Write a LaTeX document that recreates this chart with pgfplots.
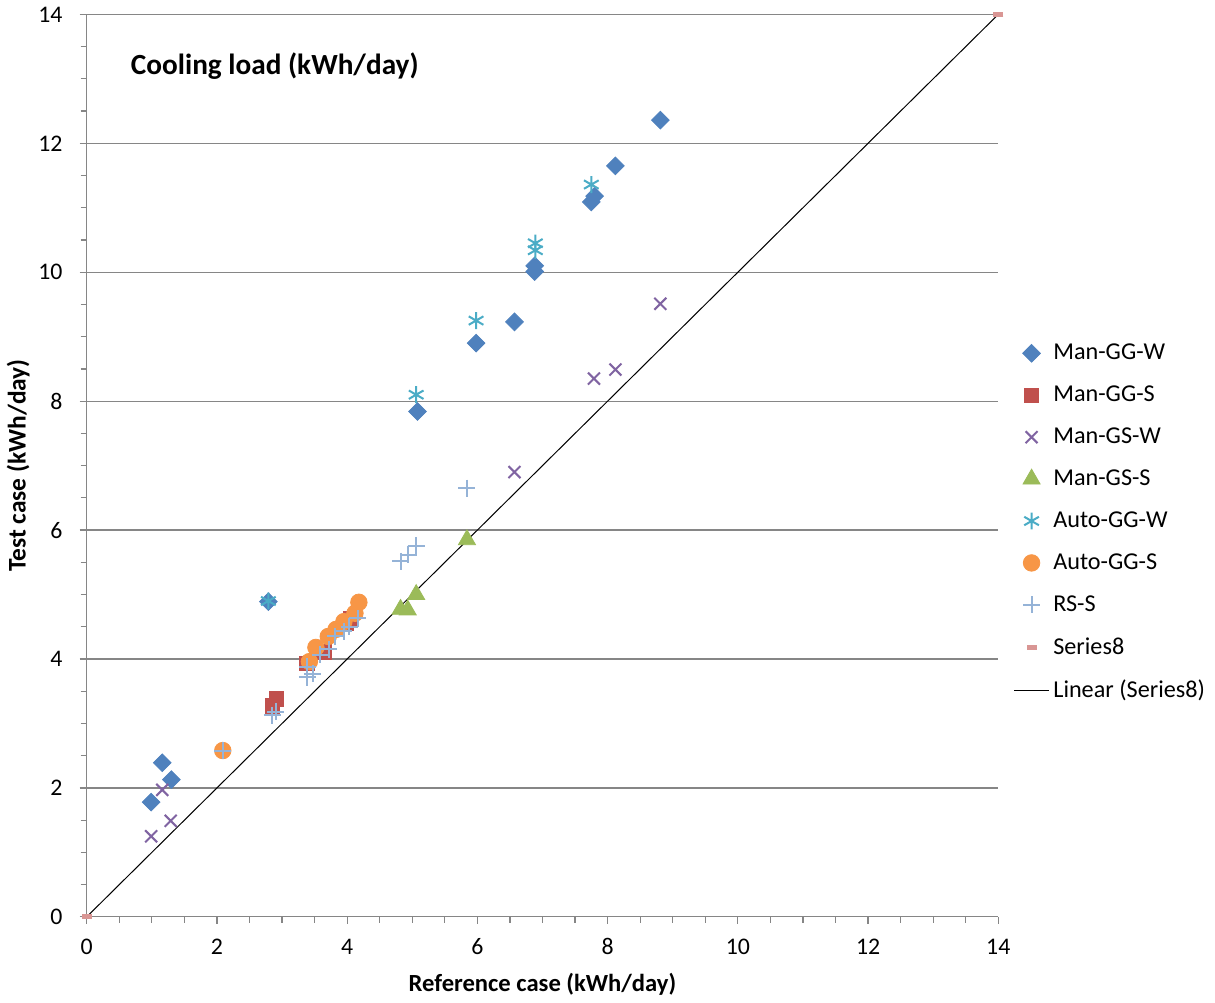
\documentclass[border=0pt]{standalone}
\usepackage{pgfplots}
\pgfplotsset{compat=1.18}
\usepackage{fontspec}
\setmainfont{Carlito}

\definecolor{mggw}{HTML}{4F81BD}
\definecolor{mggs}{HTML}{C0504D}
\definecolor{mgsw}{HTML}{8064A2}
\definecolor{mgss}{HTML}{9BBB59}
\definecolor{aggw}{HTML}{4BACC6}
\definecolor{aggs}{HTML}{F79646}
\definecolor{rss}{HTML}{95B3D7}
\definecolor{ser8}{HTML}{D99694}
\definecolor{axgray}{HTML}{868686}

\begin{document}
\begin{tikzpicture}
\begin{axis}[
    scale only axis,
    width=452pt, height=447.5pt,
    xmin=0, xmax=14, ymin=0, ymax=14,
    xtick={0,2,...,14}, ytick={0,2,...,14},
    minor tick num=3,
    axis x line*=bottom, axis y line*=left,
    axis line style={draw=axgray, line width=0.6pt, -},
    tick align=outside,
    major tick length=3.5pt, minor tick length=3pt,
    tick style={axgray, line width=0.6pt},
    ymajorgrids,
    major grid style={axgray, line width=0.6pt},
    clip=false,
    /pgf/number format/assume math mode=true,
    tick label style={font=\fontsize{11.8}{13}\selectfont},
    xticklabel style={yshift=-3.8pt},
    yticklabel style={xshift=-5pt},
    xlabel={Reference case (kWh/day)},
    ylabel={Test case (kWh/day)},
    every axis x label/.style={at={(axis description cs:0.5,-0.0749)}, anchor=center,
        font=\bfseries\fontsize{12.2}{14}\selectfont},
    every axis y label/.style={at={(axis description cs:-0.0752,0.5)}, rotate=90, anchor=center,
        font=\bfseries\fontsize{12.6}{14}\selectfont},
    legend style={at={(1.01,0.437)}, anchor=west, draw=none, fill=none,
        font=\fontsize{12}{14}\selectfont, row sep=7.5pt},
    legend cell align=left,
]
% Man-GG-W
\addplot[only marks, mark=square*, mark size=3.1pt, mark options={rotate=45, color=mggw, fill=mggw}]
coordinates {(8.81,12.36) (8.12,11.65) (7.80,11.18) (7.75,11.09) (6.88,10.10) (6.88,10.01)
 (6.57,9.23) (5.98,8.90) (5.08,7.84) (2.79,4.89) (1.16,2.39) (1.30,2.13) (0.99,1.78)};
% Man-GG-S
\addplot[only marks, mark=square*, mark size=3.6pt, mark options={color=mggs, fill=mggs}]
coordinates {(2.85,3.27) (2.91,3.38) (3.38,3.93) (3.64,4.11) (3.98,4.56) (4.06,4.62)};
% Man-GS-W
\addplot[only marks, mark=x, mark size=4.2pt, mark options={color=mgsw, line width=1pt}]
coordinates {(8.81,9.51) (8.12,8.49) (7.79,8.35) (6.57,6.90) (1.16,1.97) (1.29,1.49) (0.99,1.25)};
% Man-GS-S
\addplot[only marks, mark=triangle*, mark size=4.9pt, mark options={color=mgss, fill=mgss}]
coordinates {(5.84,5.85) (5.06,5.00) (4.93,4.76) (4.82,4.77)};
% Auto-GG-W
\addplot[only marks, mark=asterisk, mark size=4.2pt, mark options={color=aggw, line width=1pt}]
coordinates {(2.79,4.90) (5.06,8.10) (5.98,9.25) (6.89,10.45) (6.89,10.34) (7.75,11.36)};
% Auto-GG-S
\addplot[only marks, mark=*, mark size=4.1pt, mark options={color=aggs, fill=aggs}]
coordinates {(2.09,2.58) (3.42,3.96) (3.52,4.18) (3.71,4.35) (3.83,4.46) (3.95,4.58) (4.12,4.71) (4.18,4.88)};
% RS-S
\addplot[only marks, mark=+, mark size=4.2pt, mark options={color=rss, line width=1pt}]
coordinates {(5.84,6.65) (5.06,5.76) (4.94,5.62) (4.82,5.52) (4.16,4.63) (4.03,4.50) (3.95,4.43)
 (3.82,4.35) (3.72,4.15) (3.59,4.07) (3.47,3.77) (3.39,3.72) (3.39,3.88) (2.90,3.18) (2.85,3.13) (2.09,2.58)};
% Series8
\addplot[only marks, mark=-, mark size=2.5pt, mark options={color=ser8, line width=2.5pt}]
coordinates {(0,0) (14,14)};
% Linear (Series8)
\addplot[black, line width=0.5pt, no marks] coordinates {(0,0) (14,14)};
\legend{Man-GG-W, Man-GG-S, Man-GS-W, Man-GS-S, Auto-GG-W, Auto-GG-S, RS-S, Series8, Linear (Series8)}
\node[anchor=west, font=\bfseries\fontsize{14.5}{16}\selectfont] at (axis cs:0.57,13.19) {Cooling load (kWh/day)};
\end{axis}
\end{tikzpicture}
\end{document}
